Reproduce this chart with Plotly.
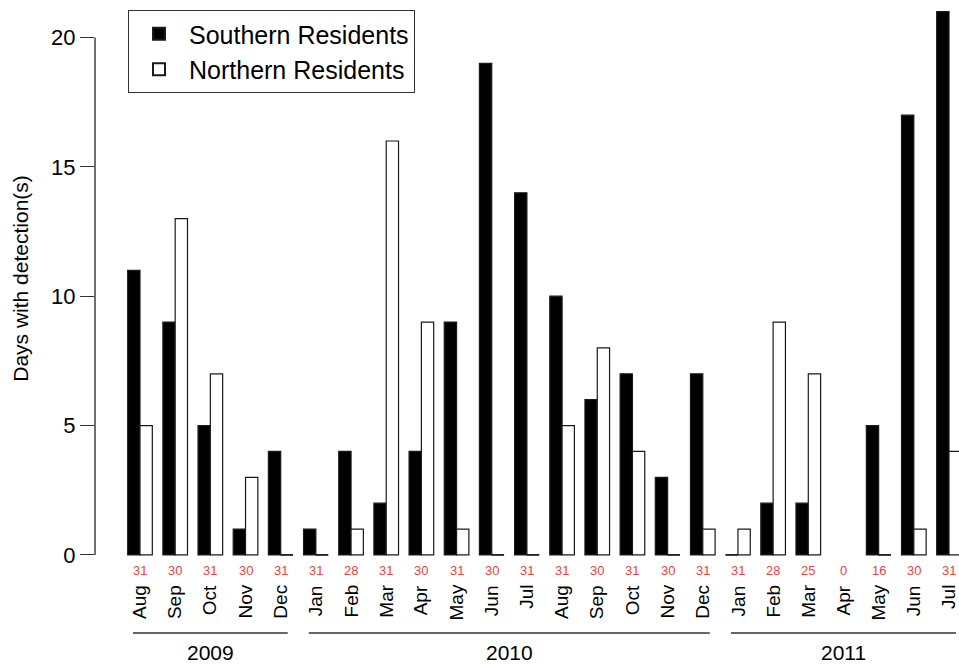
import plotly.graph_objects as go

# ---------------- data ----------------
months = ["Aug", "Sep", "Oct", "Nov", "Dec",
          "Jan", "Feb", "Mar", "Apr", "May", "Jun", "Jul", "Aug", "Sep", "Oct", "Nov", "Dec",
          "Jan", "Feb", "Mar", "Apr", "May", "Jun", "Jul"]
years = ["2009"] * 5 + ["2010"] * 12 + ["2011"] * 7
southern = [11, 9, 5, 1, 4,
            1, 4, 2, 4, 9, 19, 14, 10, 6, 7, 3, 7,
            0, 2, 2, None, 5, 17, 21]
northern = [5, 13, 7, 3, 0,
            0, 1, 16, 9, 1, 0, 0, 5, 8, 4, 0, 1,
            1, 9, 7, None, 0, 1, 4]
days_recorded = [31, 30, 31, 30, 31,
                 31, 28, 31, 30, 31, 30, 31, 31, 30, 31, 30, 31,
                 31, 28, 25, 0, 16, 30, 31]
y_ticks = [0, 5, 10, 15, 20]

# ---------------- layout constants ----------------
W, H = 959, 665
ML, MR, MT, MB = 95, 0, 0, 108
PH = H - MT - MB
BARGAP = 0.3
BW = (1 - BARGAP) / 2
FONT = "Arial, Liberation Sans, sans-serif"
RED = "#f04040"
EDGE = "#1a1a1a"

x = list(range(len(months)))


def py(px):
    """pixel row -> paper y"""
    return (H - MB - px) / PH


fig = go.Figure()
fig.add_trace(go.Bar(x=x, y=southern, name="Southern Residents",
                     marker=dict(color="black", line=dict(color=EDGE, width=1.2))))
fig.add_trace(go.Bar(x=x, y=northern, name="Northern Residents",
                     marker=dict(color="white", line=dict(color=EDGE, width=1.2))))

# zero-valued bars are drawn as a flat outline at the baseline
zx, zy = [], []
for i, (s, n) in enumerate(zip(southern, northern)):
    if s == 0:
        zx += [i - BW, i, None]
        zy += [0, 0, None]
    if n == 0:
        zx += [i, i + BW, None]
        zy += [0, 0, None]
fig.add_trace(go.Scatter(x=zx, y=zy, mode="lines", line=dict(color=EDGE, width=1.5),
                         showlegend=False, hoverinfo="skip", cliponaxis=False))

annotations = []
for i, (m, d) in enumerate(zip(months, days_recorded)):
    annotations.append(dict(x=i, y=0, xref="x", yref="y", text=str(d), showarrow=False,
                            yanchor="top", yshift=-6, font=dict(color=RED, size=13, family=FONT)))
    annotations.append(dict(x=i, y=0, xref="x", yref="y", text=m, showarrow=False,
                            textangle=-90, yanchor="top", yshift=-28,
                            font=dict(color="black", size=19, family=FONT)))

shapes = [dict(type="line", xref="paper", yref="y", x0=0, x1=0, y0=y_ticks[0], y1=y_ticks[-1],
               line=dict(color="#222", width=1.3))]

# year brackets
for yr in sorted(set(years)):
    idx = [i for i, v in enumerate(years) if v == yr]
    a, b = idx[0], idx[-1]
    shapes.append(dict(type="line", xref="x", yref="paper", x0=a - 0.2, x1=min(b + 0.2, 23.25),
                       y0=py(633), y1=py(633), line=dict(color="#333", width=1.5)))
    annotations.append(dict(x=(a + b) / 2, y=py(652), xref="x", yref="paper", text=yr,
                            showarrow=False, yanchor="middle",
                            font=dict(color="black", size=21, family=FONT)))

fig.update_layout(
    width=W, height=H,
    margin=dict(l=ML, r=MR, t=MT, b=MB, pad=0, autoexpand=False),
    paper_bgcolor="white", plot_bgcolor="white",
    barmode="group", bargap=BARGAP, bargroupgap=0,
    font=dict(family=FONT, color="black"),
    showlegend=True,
    legend=dict(x=(128 - ML) / (W - ML - MR), y=py(10), xanchor="left", yanchor="top",
                bgcolor="white", bordercolor="#333", borderwidth=1,
                font=dict(size=25, family=FONT), itemsizing="constant", itemwidth=50,
                tracegroupgap=0),
    annotations=annotations,
    shapes=shapes,
)
fig.update_xaxes(range=[-(140 - ML) / 35.17, 23 + (W - 949) / 35.17], automargin=False,
                 showticklabels=False, ticks="", showline=False, showgrid=False, zeroline=False)
fig.update_yaxes(range=[-0.08, 21.45], tickvals=y_ticks, ticks="outside", ticklen=14,
                 tickwidth=1.2, tickcolor="#333", tickfont=dict(size=22, family=FONT),
                 showline=False, showgrid=False, zeroline=False, automargin=False,
                 title=dict(text="Days with detection(s)", font=dict(size=21, family=FONT), standoff=16))

fig.write_html("out.html", config={"displayModeBar": False},
               post_script="document.body.style.margin='0px';")
